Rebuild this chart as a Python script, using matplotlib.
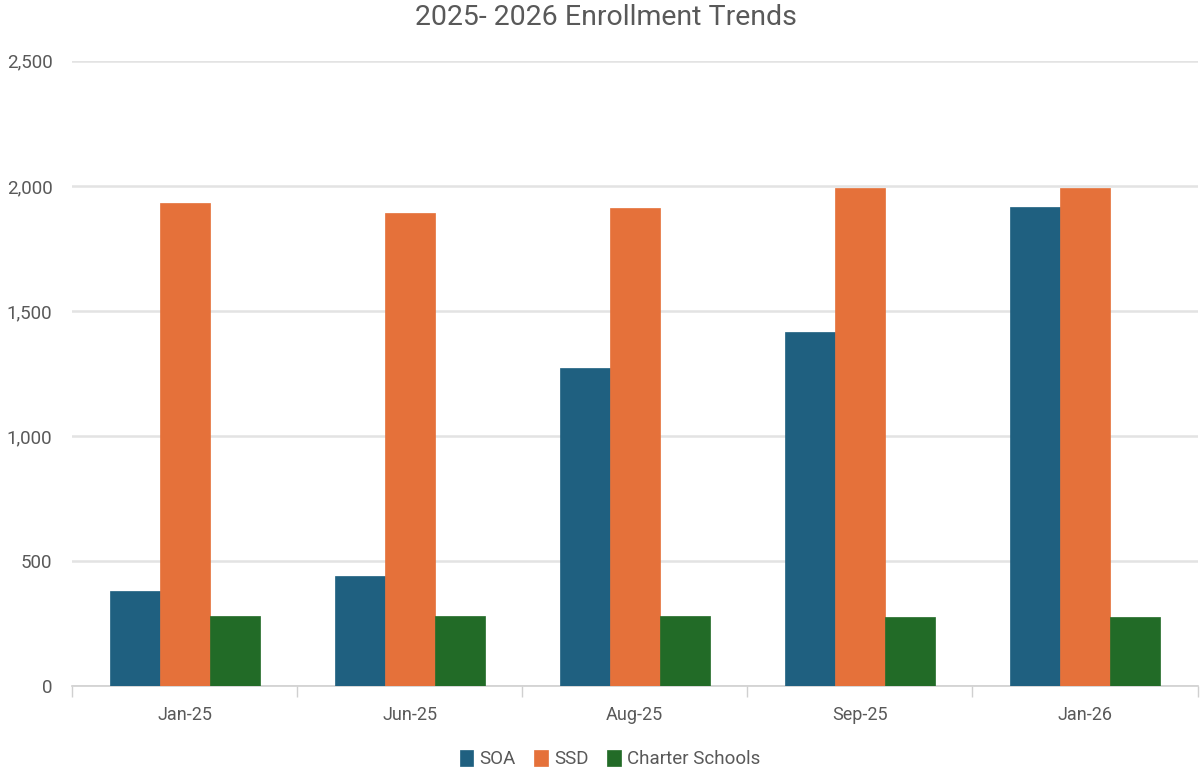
import matplotlib.pyplot as plt
import numpy as np
from matplotlib.ticker import FuncFormatter, FixedLocator

months = ["Jan-25", "Jun-25", "Aug-25", "Sep-25", "Jan-26"]
soa = [380, 440, 1270, 1415, 1915]
ssd = [1930, 1890, 1910, 1990, 1990]
charter = [280, 280, 280, 275, 275]
series_names = ["SOA", "SSD", "Charter Schools"]
colors = ["#1F6080", "#E5713A", "#226B27"]

plt.rcParams['font.family'] = ['Roboto', 'DejaVu Sans']

fig = plt.figure(figsize=(12, 7.7), dpi=100)
ax = fig.add_axes([0.06, 0.109, 0.938, 0.812])

x = np.arange(len(months))
w = 0.222
for i, (vals, name, c) in enumerate(zip([soa, ssd, charter], series_names, colors)):
    ax.bar(x + (i - 1) * w, vals, width=w, color=c, label=name, zorder=3,
           edgecolor=c, linewidth=0.5)

ax.set_xlim(-0.5, len(months) - 0.5)
ax.set_ylim(0, 2500)
ax.set_yticks([0, 500, 1000, 1500, 2000, 2500])
ax.yaxis.set_major_formatter(FuncFormatter(lambda v, p: f"{int(v):,}"))
ax.grid(axis='y', color='#E3E3E3', linewidth=1.8, zorder=0)
ax.set_xticks(x)
ax.set_xticklabels(months)
ax.xaxis.set_minor_locator(FixedLocator(np.arange(-0.5, len(months), 1.0)))

for s in ['top', 'right', 'left']:
    ax.spines[s].set_visible(False)
ax.spines['bottom'].set_color('#D0D0D0')
ax.spines['bottom'].set_linewidth(1.2)

ax.tick_params(axis='y', length=0, pad=14, labelsize=13.5, labelcolor='#595959')
ax.tick_params(axis='x', which='major', length=0, pad=14, labelsize=13, labelcolor='#595959')
ax.tick_params(axis='x', which='minor', length=8, width=1, color='#D0D0D0')

fig.suptitle("2025- 2026 Enrollment Trends", x=0.505, y=0.995, fontsize=20.5,
             color='#595959', va='top')

ax.legend(loc='center', bbox_to_anchor=(0.478, -0.117), ncol=3, frameon=False,
          fontsize=13.5, labelcolor='#595959', handlelength=0.7, handleheight=0.9,
          handletextpad=0.35, columnspacing=1.0)

fig.savefig("out.png", dpi=100)
